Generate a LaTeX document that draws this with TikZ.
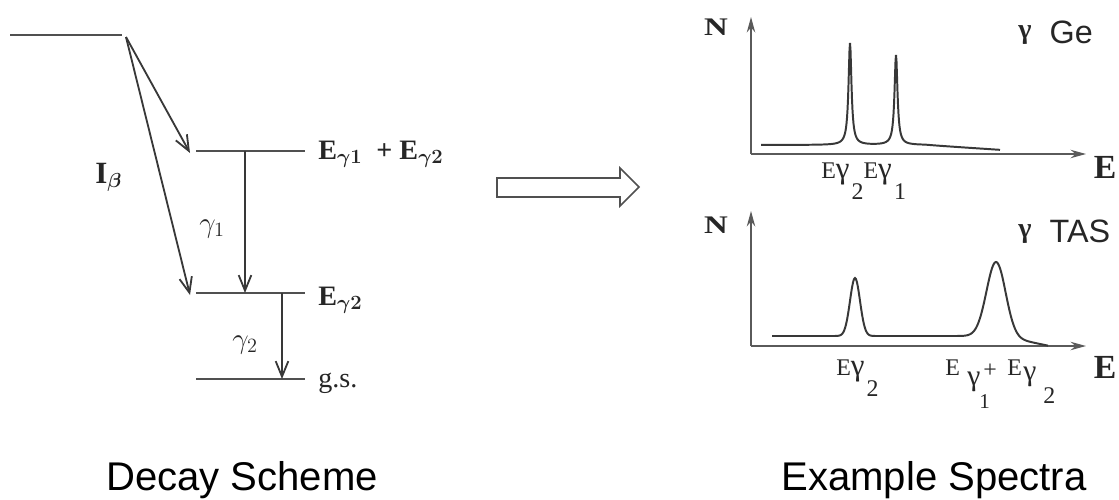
\documentclass[tikz,border=0pt]{standalone}
\usepackage{fontspec}
\setmainfont{Liberation Serif}
\newfontfamily\sansf{Liberation Sans}
\usetikzlibrary{arrows.meta}
\definecolor{lvlgray}{HTML}{505050}
\definecolor{axgray}{HTML}{5A5A5A}
\definecolor{crvgray}{HTML}{383838}
\newcommand\fs[1]{\fontsize{#1}{#1}\selectfont}
\newcommand\EgSub[1]{{\fs{17}E}{\fs{22}γ}\hspace{1.5pt}\raisebox{-15pt}{\fs{17}#1}}
\tikzset{
  lvl/.style={draw=lvlgray, line width=1.8pt},
  trans/.style={draw=crvgray, line width=1.3pt, -{Straight Barb[length=11pt,width=9pt,line width=1.3pt]}},
  axis/.style={draw=axgray, line width=1pt, -{Stealth[length=11pt,width=6pt]}},
  curve/.style={draw=crvgray, line width=1.4pt},
  dlab/.style={inner sep=0pt, font=\fs{20}\bfseries\boldmath, text=black!85},
  slab/.style={inner sep=0pt, text=black!85},
  axlab/.style={inner sep=0pt, text=black!85, font=\fs{24}\bfseries},
  title/.style={inner sep=0pt, font=\sansf\fs{28.5}, text=black},
}
\begin{document}
\begin{tikzpicture}[x=0.025cm,y=-0.025cm]
\useasboundingbox (0,0) rectangle (1119,500);

% ---------- decay scheme ----------
\coordinate (top-l) at (10,35);
\coordinate (top-r) at (122,35);
\coordinate (src) at (126,37);
\coordinate (l1-l) at (196,151);
\coordinate (l1-r) at (305,151);
\coordinate (l2-l) at (196,293);
\coordinate (l2-r) at (305,293);
\coordinate (gs-l) at (196,379);
\coordinate (gs-r) at (305,379);
\coordinate (b1-end) at (190,153);
\coordinate (b2-end) at (190,295);
\coordinate (g1-top) at (245,151);
\coordinate (g1-bot) at (245,293);
\coordinate (g2-top) at (282,293);
\coordinate (g2-bot) at (282,379);

\draw[lvl] (top-l) -- (top-r);
\draw[lvl] (l1-l) -- (l1-r);
\draw[lvl] (l2-l) -- (l2-r);
\draw[lvl] (gs-l) -- (gs-r);
\draw[trans] (src) -- (b1-end);
\draw[trans] (src) -- (b2-end);
\draw[trans] (g1-top) -- (g1-bot);
\draw[trans] (g2-top) -- (g2-bot);

\node[dlab, anchor=base west] (lab-l1) at (318,159) {E$_{\gamma1}$\ \ + E$_{\gamma2}$};
\node[dlab, anchor=base west] (lab-l2) at (318,305) {E$_{\gamma2}$};
\node[dlab, anchor=base west] (lab-gs) at (318,387) {\mdseries g.s.};
\node[dlab, anchor=base west, font=\fs{22}\bfseries\boldmath] (lab-ib) at (95,183) {I$_\beta$};
\node[dlab, anchor=base west, font=\fs{22}] (lab-g1) at (199,232) {$\gamma_1$};
\node[dlab, anchor=base west, font=\fs{22}] (lab-g2) at (232,348) {$\gamma_2$};

% ---------- hollow arrow ----------
\draw[draw=lvlgray, line width=1.1pt, fill=white]
  (497,178) -- (620,178) -- (620,168) -- (639,187) -- (620,206) -- (620,197) -- (497,197) -- cycle;

% ---------- Ge spectrum ----------
\coordinate (ge-o) at (751,154);
\coordinate (ge-y) at (751,17);
\coordinate (ge-x) at (1086,154);
\draw[axis] (ge-o) -- (ge-y);
\draw[axis] (ge-o) -- (ge-x);
\node[axlab, font=\fs{18}\bfseries] (ge-N) at (716,27) {\scalebox{1.3}[1]{N}};
\node[axlab] (ge-E) at (1105,167) {E};
\node[slab, anchor=base west] (ge-t) at (1018,43) {\raisebox{3pt}{\fs{20}\bfseries γ}\hspace{13pt}{\sansf\fs{23}Ge}};
\draw[curve] plot[domain=761:1000, samples=479]
  (\x, {145 + max(0,\x-925)*0.065 - 102/(1+((\x-850)/1.8)^2) - 90/(1+((\x-896)/1.8)^2)});
\node[slab, anchor=base west] (ge-l) at (821,178) {\EgSub{2}\EgSub{1}};

% ---------- TAS spectrum ----------
\coordinate (tas-o) at (751,346);
\coordinate (tas-y) at (751,211);
\coordinate (tas-x) at (1086,346);
\draw[axis] (tas-o) -- (tas-y);
\draw[axis] (tas-o) -- (tas-x);
\node[axlab, font=\fs{18}\bfseries] (tas-N) at (716,225) {\scalebox{1.3}[1]{N}};
\node[axlab] (tas-E) at (1105,367) {E};
\node[slab, anchor=base west] (tas-t) at (1018,242) {\raisebox{3pt}{\fs{20}\bfseries γ}\hspace{13pt}{\sansf\fs{23}TAS}};
\draw[curve] plot[domain=772:1048, samples=277]
  (\x, {336 + max(0,\x-1002)*0.21 - 58*exp(max(-20,-0.5*((\x-855)/5)^2)) - 74*exp(max(-20,-0.5*((\x-996)/9.5)^2))});
\node[slab, anchor=base west] (tas-l1) at (836,375) {\EgSub{2}};
\node[slab, anchor=base west, font=\fs{17}] (tas-e1) at (945,375) {E};
\node[slab, anchor=base west, font=\fs{21}] (tas-g1) at (967,385) {γ};
\node[slab, anchor=base west, font=\fs{15}] (tas-s1) at (979,408) {1};
\node[slab, font=\fs{17}] (tas-p) at (990,371) {+};
\node[slab, anchor=base west, font=\fs{17}] (tas-e2) at (1007,375) {E};
\node[slab, anchor=base west, font=\fs{21}] (tas-g2) at (1023,380) {γ};
\node[slab, anchor=base west, font=\fs{17}] (tas-s2) at (1043,403) {2};

% ---------- titles ----------
\node[title, anchor=base] (t-decay) at (242,490) {Decay Scheme};
\node[title, anchor=base] (t-spec) at (934,490) {Example Spectra};
\end{tikzpicture}
\end{document}
